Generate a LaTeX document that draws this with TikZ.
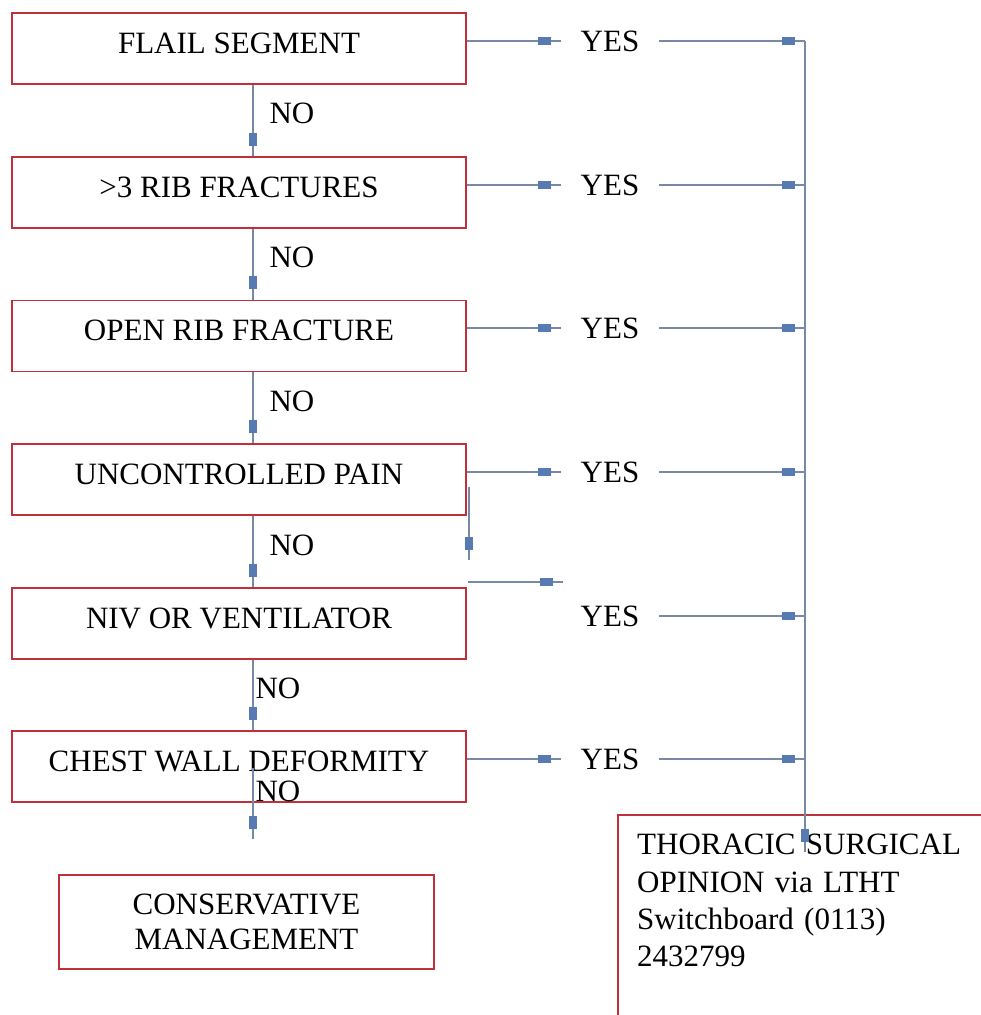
\documentclass[tikz,border=0pt]{standalone}
\usepackage{fontspec}
\setmainfont{Liberation Serif}
\usetikzlibrary{decorations.markings}
\definecolor{boxred}{RGB}{192,48,56}
\definecolor{linec}{RGB}{118,138,168}
\definecolor{markc}{RGB}{88,122,178}
\tikzset{
 txt/.style={font=\fontsize{31}{37}\selectfont},
 box/.style={txt, draw=boxred, line width=1.6pt, minimum width=454pt, minimum height=71pt, inner sep=0pt, text height=21pt, text depth=12pt},
 lbl/.style={txt, inner sep=0pt, text height=21pt, text depth=0pt},
 yeslbl/.style={lbl, inner xsep=19.5pt},
 frame/.style={draw=boxred, line width=1.6pt},
 conn/.style={draw=linec, line width=2.6pt, postaction={decorate},
   decoration={markings, mark=at position -17pt with {\fill[markc] (-6.5pt,-4pt) rectangle (6.5pt,4pt);}}},
}
\begin{document}
\begin{tikzpicture}[x=1pt,y=-1pt]
\useasboundingbox (0,0) rectangle (981,1015);
% boxes
\node[box] (b1) at (239,48.5) {FLAIL SEGMENT};
\node[box] (b2) at (239,192.5) {>3 RIB FRACTURES};
\node[box] (b3) at (239,336) {OPEN RIB FRACTURE};
\node[box] (b4) at (239,479.5) {UNCONTROLLED PAIN};
\node[box] (b5) at (239,623.5) {NIV OR VENTILATOR};
\node[box] (b6) at (239,766.5) {CHEST WALL DEFORMITY};
\node[txt, draw=boxred, line width=1.6pt, minimum width=375pt, minimum height=94pt, align=center, inner sep=0pt, font=\fontsize{31}{35}\selectfont] (cm) at (246.5,922) {CONSERVATIVE\\MANAGEMENT};
% thoracic box
\node[txt, anchor=north west, inner sep=19pt, text width=340pt, align=left, font=\fontsize{31}{37.3}\selectfont] (thor) at (618,815) {THORACIC SURGICAL\\OPINION via LTHT\\Switchboard (0113)\\2432799};
\coordinate (bot) at (0,1015);
\coordinate (rgt) at (981,0);
\draw[frame] (thor.north west |- bot) -- (thor.north west) -- (thor.north west -| rgt);
% YES labels
\node[yeslbl] (y1) at (610,41) {YES};
\node[yeslbl] (y2) at (610,185) {YES};
\node[yeslbl] (y3) at (610,328) {YES};
\node[yeslbl] (y4) at (610,472) {YES};
\node[yeslbl] (y5) at (610,616) {YES};
\node[yeslbl] (y6) at (610,759) {YES};
% NO arrows
\coordinate (nx) at (253,0);
\draw[conn] (nx |- b1.south) -- (nx |- b2.north);
\draw[conn] (nx |- b2.south) -- (nx |- b3.north);
\draw[conn] (nx |- b3.south) -- (nx |- b4.north);
\draw[conn] (nx |- b4.south) -- (nx |- b5.north);
\draw[conn] (nx |- b5.south) -- (nx |- b6.north);
\coordinate (n6a) at (253,768);
\coordinate (n6b) at (253,839);
\draw[conn] (n6a) -- (n6b);
% NO labels
\node[lbl] (no1) at (292,113) {NO};
\node[lbl] (no2) at (292,257) {NO};
\node[lbl] (no3) at (292,401) {NO};
\node[lbl] (no4) at (292,545) {NO};
\node[lbl] (no5) at (278,688) {NO};
\node[lbl] (no6) at (278,791) {NO};
% YES arrows, left parts
\draw[conn] (b1.east |- y1.west) -- (y1.west);
\draw[conn] (b2.east |- y2.west) -- (y2.west);
\draw[conn] (b3.east |- y3.west) -- (y3.west);
\draw[conn] (b4.east |- y4.west) -- (y4.west);
\coordinate (v4a) at (469,487);
\coordinate (v4b) at (469,560);
\draw[conn] (v4a) -- (v4b);
\coordinate (r5a) at (468,582);
\coordinate (r5b) at (563,582);
\draw[conn] (r5a) -- (r5b);
\draw[conn] (b6.east |- y6.west) -- (y6.west);
% trunk
\coordinate (tt) at (805,41);
\coordinate (tb) at (805,852);
\draw[conn] (tt) -- (tb);
% YES arrows, right parts
\draw[conn] (y1.east) -- (tt |- y1.east);
\draw[conn] (y2.east) -- (tt |- y2.east);
\draw[conn] (y3.east) -- (tt |- y3.east);
\draw[conn] (y4.east) -- (tt |- y4.east);
\draw[conn] (y5.east) -- (tt |- y5.east);
\draw[conn] (y6.east) -- (tt |- y6.east);
\end{tikzpicture}
\end{document}
